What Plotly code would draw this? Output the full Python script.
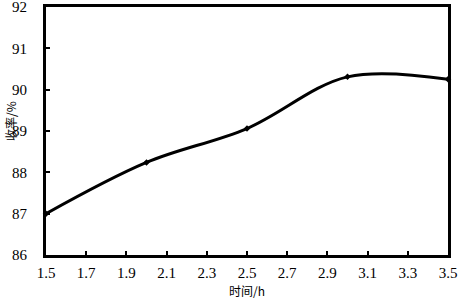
import plotly.graph_objects as go

time_h = [1.5, 2.0, 2.5, 3.0, 3.5]
yield_pct = [87.0, 88.24, 89.06, 90.31, 90.25]
x_ticks = [1.5, 1.7, 1.9, 2.1, 2.3, 2.5, 2.7, 2.9, 3.1, 3.3, 3.5]
y_ticks = [86, 87, 88, 89, 90, 91, 92]

fig = go.Figure()
fig.add_trace(go.Scatter(
    x=time_h, y=yield_pct, mode="lines+markers",
    line=dict(color="black", width=3, shape="spline", smoothing=1),
    marker=dict(color="black", size=5, symbol="diamond"),
    cliponaxis=False, showlegend=False,
))

font = dict(family="Liberation Serif, Noto Sans CJK SC", size=15, color="black")
fig.update_layout(
    width=463, height=301,
    margin=dict(l=46, r=15, t=7, b=46, autoexpand=False),
    plot_bgcolor="white", paper_bgcolor="white",
    font=font,
    xaxis=dict(range=[1.5, 3.5], tickvals=x_ticks, ticktext=[f"{v:.1f}" for v in x_ticks],
               ticks="inside", ticklen=4, tickwidth=2, tickcolor="black",
               showline=True, linewidth=3, linecolor="black", mirror=True,
               showgrid=False, zeroline=False, ticklabelstandoff=2, automargin=False,
               ticklabeloverflow="allow"),
    yaxis=dict(range=[86, 92], tickvals=y_ticks, ticktext=[str(v) for v in y_ticks],
               ticks="inside", ticklen=4, tickwidth=2, tickcolor="black",
               showline=True, linewidth=3, linecolor="black", mirror=True,
               showgrid=False, zeroline=False, ticklabelstandoff=13, automargin=False,
               ticklabeloverflow="allow"),
    annotations=[
        dict(text="时间/h", x=0.5, xref="paper", y=-0.185, yref="paper", yanchor="bottom",
             showarrow=False, font=dict(family="Noto Sans CJK SC, Liberation Serif", size=12, color="black")),
        dict(text="收率/%", x=-0.09, xref="paper", xanchor="center", y=0.54, yref="paper",
             yanchor="middle", textangle=-90, showarrow=False,
             font=dict(family="Noto Sans CJK SC, Liberation Serif", size=12, color="black")),
    ],
)
fig.write_html("out.html", config={"displayModeBar": False},
               post_script="document.body.style.margin='0';document.body.style.padding='0';")
